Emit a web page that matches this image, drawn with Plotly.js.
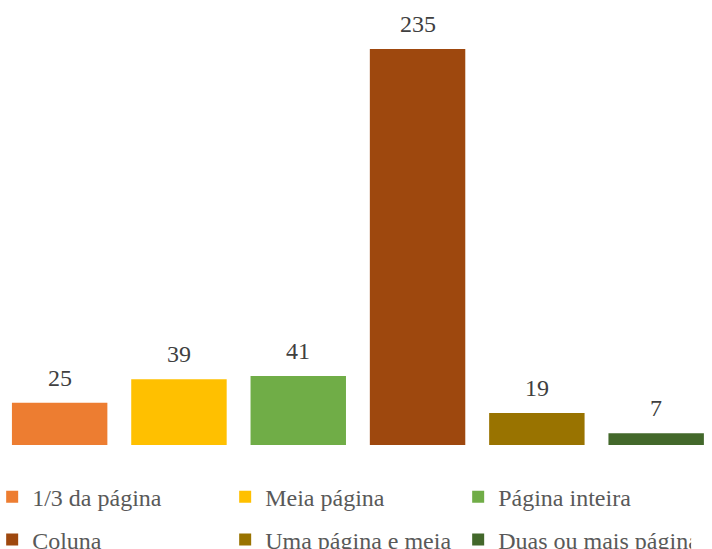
<!DOCTYPE html>
<html>
<head>
<meta charset="utf-8">
<script src="https://cdn.plot.ly/plotly-3.0.1.min.js"></script>
<style>html,body{margin:0;padding:0;background:#fff;}#chart{width:712px;height:549px;}</style>
</head>
<body>
<div id="chart"></div>
<script>
const categories = ["1/3 da página", "Meia página", "Página inteira", "Coluna", "Uma página e meia", "Duas ou mais páginas"];
const values = [25, 39, 41, 235, 19, 7];
const colors = ["#ED7D31", "#FFC000", "#70AD47", "#9E480E", "#997300", "#43682B"];

const traces = categories.map((c, i) => ({
  type: "bar", name: c, x: [i], y: [values[i]], width: 0.8,
  marker: {color: colors[i]}, legend: i < 3 ? "legend" : "legend2", hoverinfo: "skip"
}));

const annotations = categories.map((c, i) => ({
  x: i, y: values[i], xref: "x", yref: "y", text: String(values[i]),
  showarrow: false, yanchor: "bottom", yshift: 10,
  font: {family: "Liberation Serif", size: 24, color: "#404040"}
}));

const layout = {
  width: 712, height: 549,
  margin: {l: 0, r: 0, t: 0, b: 104, autoexpand: false},
  xaxis: {range: [-0.5, 5.468], visible: false},
  yaxis: {range: [0, 264], visible: false},
  annotations: annotations,
  legend: {orientation: "h", x: -0.011, y: -0.117, yanchor: "middle", entrywidth: 188,
           font: {family: "Liberation Serif", size: 24, color: "#595959"}},
  legend2: {orientation: "h", x: -0.011, y: -0.213, yanchor: "middle", entrywidth: 188,
            font: {family: "Liberation Serif", size: 24, color: "#595959"}}
};
Plotly.newPlot("chart", traces, layout, {displayModeBar: false, staticPlot: true});
</script>
</body>
</html>
